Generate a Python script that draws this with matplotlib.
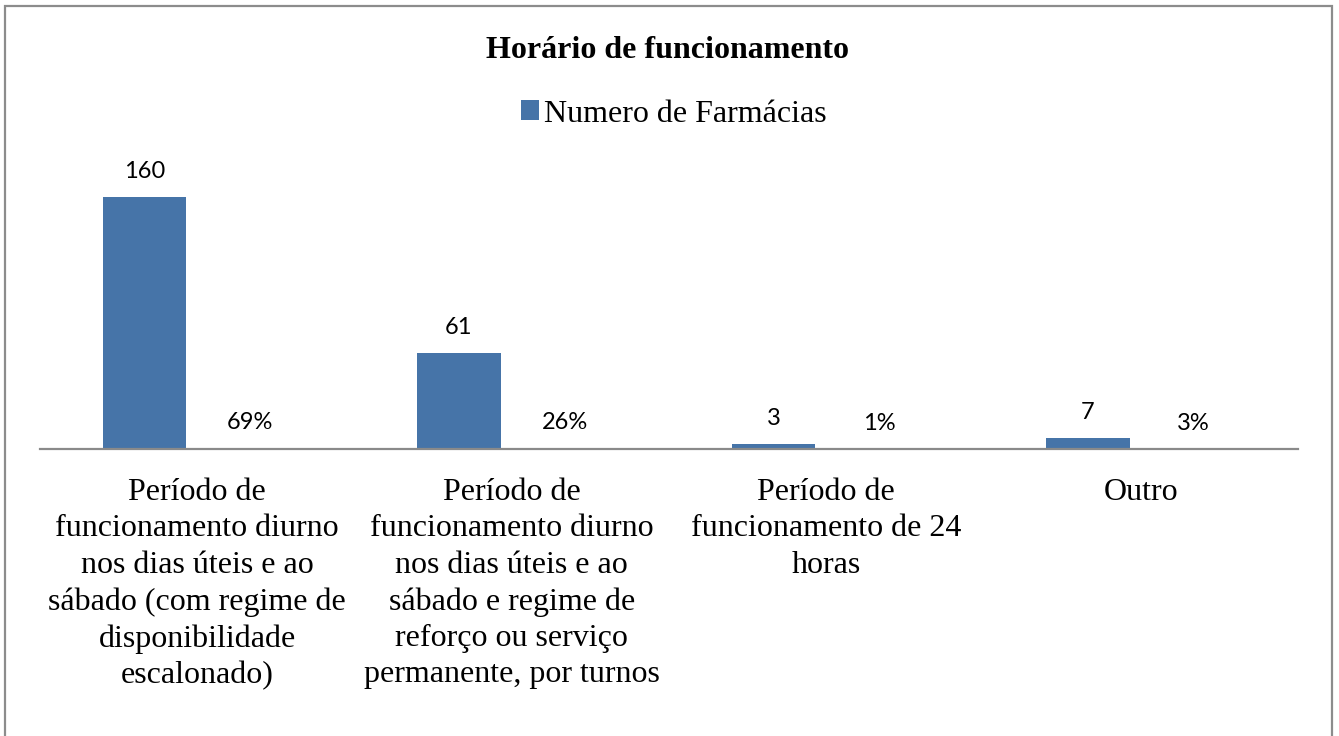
import matplotlib
matplotlib.use("Agg")
import matplotlib.pyplot as plt
import numpy as np
from matplotlib.patches import Rectangle

categories = [
    "Período de\nfuncionamento diurno\nnos dias úteis e ao\nsábado (com regime de\ndisponibilidade\nescalonado)",
    "Período de\nfuncionamento diurno\nnos dias úteis e ao\nsábado e regime de\nreforço ou serviço\npermanente, por turnos",
    "Período de\nfuncionamento de 24\nhoras",
    "Outro",
]
counts = [160, 61, 3, 7]
pct = [69, 26, 1, 3]
series_name = "Numero de Farmácias"
title = "Horário de funcionamento"

W, H = 1339, 736
fig = plt.figure(figsize=(W / 100, H / 100), dpi=100)

# outer chart border
fig.patches.append(Rectangle((5 / W, -0.01), (1332 - 5) / W, 1 - 6 / H + 0.01,
                             transform=fig.transFigure, fill=False,
                             edgecolor="#8c8c8c", linewidth=1.6))

ax = fig.add_axes([40 / W, (H - 449) / H, (1298 - 40) / W, (449 - 166) / H])
x = np.arange(len(categories))
bw = 0.2655
off = 0.168
b1 = ax.bar(x - off, counts, width=bw, color="#4674A8", label=series_name, zorder=2)
b2 = ax.bar(x + off, [p / 100 for p in pct], width=bw, color="#A9C0DE", zorder=2)

ax.set_xlim(-0.5, 3.5)
ax.set_ylim(0, 180)
for s in ["top", "left", "right"]:
    ax.spines[s].set_visible(False)
ax.spines["bottom"].set_color("#8a8a8a")
ax.spines["bottom"].set_linewidth(1.6)
ax.set_yticks([])
ax.set_xticks(x)
ax.set_xticklabels(categories, fontfamily="Liberation Serif", fontsize=23,
                   linespacing=1.33, va="top")
ax.tick_params(axis="x", length=0, pad=21)

lab_font = dict(fontfamily="Lato", fontsize=17, ha="center", va="center")
for xi, v in zip(x, counts):
    ax.annotate(f"{v}", (xi - off, v), xytext=(0, 18.5), textcoords="offset points", **lab_font)
for xi, p in zip(x, pct):
    ax.annotate(f"{p}%", (xi + off, p / 100), xytext=(0, 18.5), textcoords="offset points", **lab_font)

fig.text(668 / W, 1 - 50 / H, title, fontfamily="Liberation Serif", fontsize=23,
         fontweight="bold", ha="center", va="center")

fig.legend(handles=[b1], labels=[series_name], loc="center", bbox_to_anchor=(674 / W, 1 - 114 / H),
           frameon=False, prop=dict(family="Liberation Serif", size=23),
           handlelength=0.56, handleheight=0.56, handletextpad=0.15, borderpad=0)

fig.savefig("out.png", dpi=100)
